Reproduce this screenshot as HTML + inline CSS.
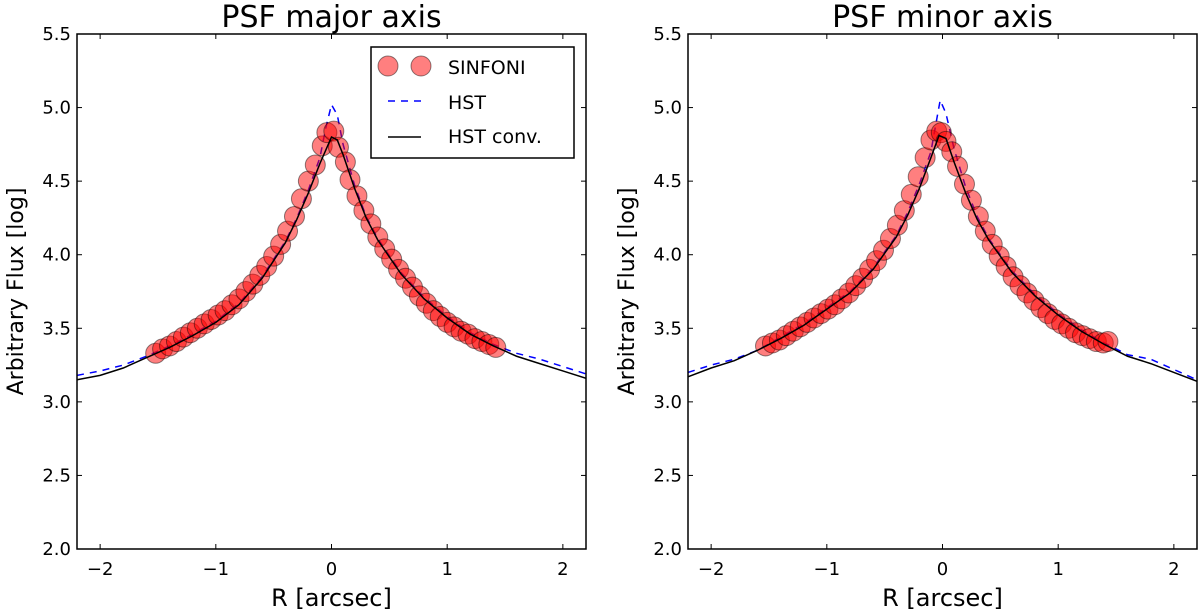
<!DOCTYPE html>
<html><head><meta charset="utf-8"><style>
html,body{margin:0;padding:0;background:#fff;}
svg{display:block;font-family:"DejaVu Sans","Liberation Sans",sans-serif;}
</style></head><body>
<svg id="fig" width="1200" height="615" viewBox="0 0 1200 615" xmlns="http://www.w3.org/2000/svg"></svg>
<script>
// ---- data: major axis ----
const majSinX = [-1.52,-1.46,-1.40,-1.34,-1.28,-1.22,-1.16,-1.10,-1.04,-0.98,-0.92,-0.86,-0.80,-0.74,-0.68,-0.62,-0.56,-0.50,-0.44,-0.38,-0.32,-0.26,-0.20,-0.14,-0.08,-0.04,0.02,0.06,0.12,0.16,0.22,0.28,0.34,0.40,0.46,0.52,0.58,0.64,0.70,0.76,0.82,0.88,0.94,1.00,1.06,1.12,1.18,1.24,1.30,1.36,1.42];
const majSinY = [3.33,3.36,3.38,3.41,3.44,3.47,3.50,3.53,3.56,3.59,3.62,3.66,3.70,3.75,3.80,3.86,3.92,3.99,4.07,4.16,4.26,4.38,4.50,4.61,4.74,4.83,4.84,4.73,4.63,4.51,4.40,4.30,4.21,4.12,4.04,3.97,3.90,3.84,3.78,3.72,3.67,3.62,3.58,3.54,3.51,3.48,3.46,3.43,3.41,3.39,3.37];
const majConvX = [-2.2,-2.0,-1.8,-1.6,-1.4,-1.2,-1.0,-0.8,-0.6,-0.4,-0.3,-0.2,-0.1,0.0,0.05,0.1,0.2,0.3,0.4,0.6,0.8,1.0,1.2,1.4,1.6,1.8,2.0,2.2];
const majConvY = [3.15,3.18,3.23,3.30,3.37,3.45,3.54,3.66,3.84,4.08,4.24,4.42,4.62,4.80,4.78,4.68,4.45,4.25,4.10,3.87,3.70,3.57,3.46,3.38,3.31,3.26,3.21,3.16];
const majHstX = [-2.2,-2.0,-1.8,-1.6,-1.4,-1.2,-1.0,-0.8,-0.6,-0.4,-0.3,-0.2,-0.1,-0.05,0.0,0.05,0.1,0.2,0.3,0.4,0.6,0.8,1.0,1.2,1.4,1.6,1.8,2.0,2.2];
const majHstY = [3.18,3.21,3.25,3.31,3.38,3.46,3.55,3.67,3.85,4.09,4.25,4.44,4.66,4.86,5.02,4.95,4.75,4.47,4.26,4.11,3.88,3.71,3.58,3.47,3.39,3.33,3.29,3.24,3.19];
// ---- data: minor axis ----
const minSinX = [-1.53,-1.47,-1.41,-1.35,-1.29,-1.23,-1.17,-1.11,-1.05,-0.99,-0.93,-0.87,-0.81,-0.75,-0.69,-0.63,-0.57,-0.51,-0.45,-0.39,-0.33,-0.27,-0.21,-0.15,-0.10,-0.05,-0.01,0.03,0.08,0.13,0.19,0.25,0.31,0.37,0.43,0.49,0.55,0.61,0.67,0.73,0.79,0.85,0.91,0.97,1.03,1.09,1.15,1.21,1.27,1.33,1.39,1.43];
const minSinY = [3.38,3.40,3.42,3.45,3.48,3.51,3.54,3.57,3.60,3.63,3.66,3.70,3.74,3.79,3.84,3.90,3.96,4.03,4.11,4.20,4.30,4.41,4.53,4.66,4.78,4.84,4.83,4.77,4.70,4.60,4.48,4.37,4.26,4.16,4.07,3.99,3.92,3.85,3.79,3.74,3.69,3.64,3.60,3.56,3.53,3.50,3.47,3.45,3.43,3.41,3.40,3.41];
const minConvX = [-2.2,-2.0,-1.8,-1.6,-1.4,-1.2,-1.0,-0.8,-0.6,-0.4,-0.3,-0.2,-0.1,-0.03,0.03,0.1,0.2,0.3,0.4,0.6,0.8,1.0,1.2,1.4,1.6,1.8,2.0,2.2];
const minConvY = [3.17,3.23,3.28,3.35,3.43,3.52,3.63,3.74,3.90,4.12,4.27,4.45,4.66,4.81,4.79,4.63,4.42,4.24,4.10,3.88,3.72,3.59,3.48,3.39,3.31,3.26,3.20,3.14];
const minHstX = [-2.2,-2.0,-1.8,-1.6,-1.4,-1.2,-1.0,-0.8,-0.6,-0.4,-0.3,-0.2,-0.1,-0.05,-0.02,0.03,0.1,0.2,0.3,0.4,0.6,0.8,1.0,1.2,1.4,1.6,1.8,2.0,2.2];
const minHstY = [3.20,3.25,3.29,3.35,3.44,3.53,3.64,3.75,3.91,4.13,4.29,4.48,4.70,4.92,5.05,4.96,4.72,4.46,4.26,4.11,3.89,3.73,3.60,3.49,3.40,3.32,3.29,3.22,3.15];
// ---- ticks ----
const xTicks = [-2,-1,0,1,2];
const xTickLabels = ["\u22122","\u22121","0","1","2"];
const yTicks = [2.0,2.5,3.0,3.5,4.0,4.5,5.0,5.5];
const yTickLabels = ["2.0","2.5","3.0","3.5","4.0","4.5","5.0","5.5"];

const NS="http://www.w3.org/2000/svg";
const svg=document.getElementById('fig');
function mk(tag,attrs,parent){const e=document.createElementNS(NS,tag);for(const k in attrs)e.setAttribute(k,attrs[k]);(parent||svg).appendChild(e);return e;}

function panel(left,title,sx,sy,cx,cy,hx,hy,withLegend,pname){
  const top=34,bottom=549,w=509;
  const X=v=>left+(v+2.2)/4.4*w;
  const Y=v=>bottom-(v-2.0)/3.5*(bottom-top);
  const g=mk('g',{});
  
  
  const clipId='clip-'+pname;
  const cp=mk('clipPath',{id:clipId},g);mk('rect',{x:left,y:top,width:w,height:bottom-top},cp);
  const plot=mk('g',{'clip-path':'url(#'+clipId+')'},g);
  const hp=mk('polyline',{points:hx.map((v,i)=>X(v)+','+Y(hy[i])).join(' '),fill:'none',stroke:'#0000ff','stroke-width':1.5,'stroke-dasharray':'7,6'},plot);
  
  
  const pg=mk('g',{},plot);
  
  
  sx.forEach((v,i)=>{
    const c=mk('circle',{cx:X(v),cy:Y(sy[i]),r:10,fill:'rgba(255,0,0,0.5)',stroke:'rgba(0,0,0,0.45)','stroke-width':1},pg);
    
    
  });
  const cl=mk('polyline',{points:cx.map((v,i)=>X(v)+','+Y(cy[i])).join(' '),fill:'none',stroke:'#000','stroke-width':1.5},plot);
  
  
  const fr=mk('rect',{x:left,y:top,width:w,height:bottom-top,fill:'none',stroke:'#000','stroke-width':1.5},g);
  
  
  xTicks.forEach((t,i)=>{
    mk('line',{x1:X(t),x2:X(t),y1:bottom,y2:bottom-5,stroke:'#000'},g);
    mk('line',{x1:X(t),x2:X(t),y1:top,y2:top+5,stroke:'#000'},g);
    const tx=mk('text',{x:X(t),y:bottom+26,'text-anchor':'middle','font-size':18},g);
    tx.textContent=xTickLabels[i];
    
    
  });
  yTicks.forEach((t,i)=>{
    mk('line',{x1:left,x2:left+5,y1:Y(t),y2:Y(t),stroke:'#000'},g);
    mk('line',{x1:left+w,x2:left+w-5,y1:Y(t),y2:Y(t),stroke:'#000'},g);
    const ty=mk('text',{x:left-6,y:Y(t)+6,'text-anchor':'end','font-size':18},g);
    ty.textContent=yTickLabels[i];
    
    
  });
  const tt=mk('text',{x:left+w/2,y:27,'text-anchor':'middle','font-size':30},g);
  tt.textContent=title;
  
  
  const xl=mk('text',{x:left+w/2,y:606,'text-anchor':'middle','font-size':24},g);
  xl.textContent='R [arcsec]';
  
  
  const yl=mk('text',{x:0,y:0,'text-anchor':'middle','font-size':22,transform:'translate('+(left-54)+','+((top+bottom)/2)+') rotate(-90)'},g);
  yl.textContent='Arbitrary Flux [log]';
  
  
  if(withLegend){
    const lg=mk('g',{},g);
    
    
    mk('rect',{x:371,y:47,width:203,height:111,fill:'#fff',stroke:'#000','stroke-width':1.5},lg);
    mk('circle',{cx:388,cy:66,r:10,fill:'rgba(255,0,0,0.5)',stroke:'rgba(0,0,0,0.45)'},lg);
    mk('circle',{cx:421,cy:66,r:10,fill:'rgba(255,0,0,0.5)',stroke:'rgba(0,0,0,0.45)'},lg);
    mk('line',{x1:388,x2:421,y1:101,y2:101,stroke:'#0000ff','stroke-width':1.5,'stroke-dasharray':'7,6'},lg);
    mk('line',{x1:388,x2:421,y1:137,y2:137,stroke:'#000','stroke-width':1.5},lg);
    [['SINFONI',74],['HST',109],['HST conv.',143]].forEach(([s,y])=>{
      const t=mk('text',{x:448,y:y,'font-size':19},lg);t.textContent=s;
      
      
    });
  }
}
panel(77,'PSF major axis',majSinX,majSinY,majConvX,majConvY,majHstX,majHstY,true,'major-axis-panel');
panel(688,'PSF minor axis',minSinX,minSinY,minConvX,minConvY,minHstX,minHstY,false,'minor-axis-panel');
</script>
</body></html>
